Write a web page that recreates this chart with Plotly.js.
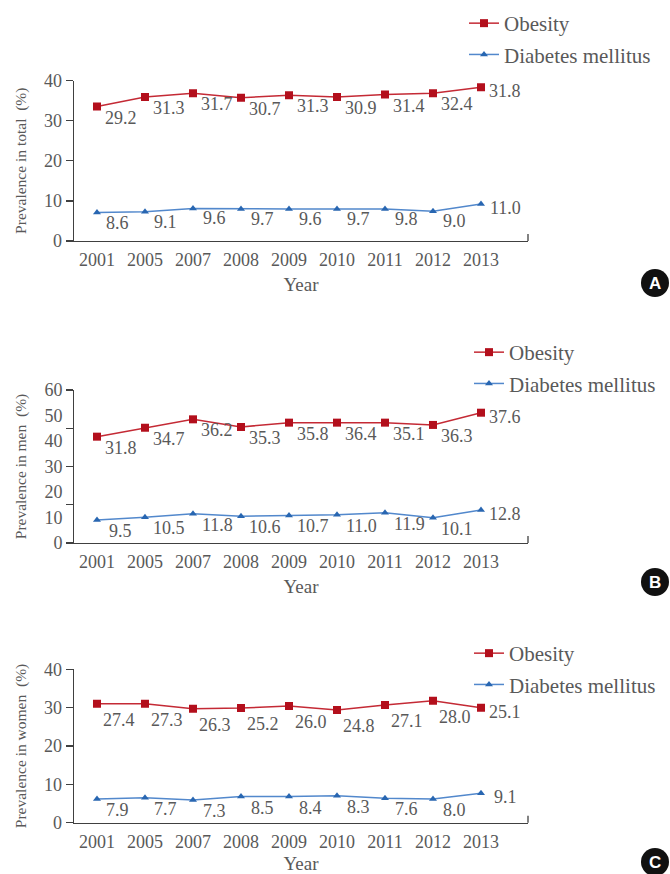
<!DOCTYPE html>
<html>
<head>
<meta charset="utf-8">
<script src="https://cdn.plot.ly/plotly-3.0.1.min.js"></script>
<style>
  html, body { margin: 0; padding: 0; background: #fff; }
  #chart { width: 670px; height: 874px; }
</style>
</head>
<body>
<div id="chart"></div>
<script>
// ---------------- data ----------------
const years = ['2001', '2005', '2007', '2008', '2009', '2010', '2011', '2012', '2013'];

// Panel A: total (plotted marker heights as drawn, and printed labels)
const totalObesity       = [33.5, 35.9, 36.8, 35.7, 36.3, 35.9, 36.5, 36.8, 38.3];
const totalObesityLabels = ['29.2', '31.3', '31.7', '30.7', '31.3', '30.9', '31.4', '32.4', '31.8'];
const totalDiabetes       = [7.1, 7.3, 8.1, 8.0, 8.0, 8.0, 8.0, 7.4, 9.2];
const totalDiabetesLabels = ['8.6', '9.1', '9.6', '9.7', '9.6', '9.7', '9.8', '9.0', '11.0'];

// Panel B: men
const menObesity       = [41.7, 45.2, 48.5, 45.5, 47.2, 47.2, 47.2, 46.3, 51.1];
const menObesityLabels = ['31.8', '34.7', '36.2', '35.3', '35.8', '36.4', '35.1', '36.3', '37.6'];
const menDiabetes       = [9.0, 10.1, 11.5, 10.5, 10.8, 11.1, 11.9, 9.9, 12.9];
const menDiabetesLabels = ['9.5', '10.5', '11.8', '10.6', '10.7', '11.0', '11.9', '10.1', '12.8'];

// Panel C: women
const womenObesity       = [31.0, 31.0, 29.7, 29.9, 30.4, 29.4, 30.7, 31.8, 30.0];
const womenObesityLabels = ['27.4', '27.3', '26.3', '25.2', '26.0', '24.8', '27.1', '28.0', '25.1'];
const womenDiabetes       = [6.2, 6.5, 5.9, 6.8, 6.8, 7.0, 6.4, 6.2, 7.7];
const womenDiabetesLabels = ['7.9', '7.7', '7.3', '8.5', '8.4', '8.3', '7.6', '8.0', '9.1'];

const seriesNames = ['Obesity', 'Diabetes mellitus'];
const yTitles = ['Prevalence in total\u00a0\u00a0(%)', 'Prevalence in men\u00a0\u00a0(%)', 'Prevalence in women\u00a0\u00a0(%)'];
const panelLetters = ['A', 'B', 'C'];

// ---------------- styling ----------------
const W = 670, H = 874;
const SERIF = 'Liberation Serif';
const GRAY = '#595959';
const AXIS = '#404040';
const RED_LINE = '#C42A35', RED_MK = '#B30F1C';
const BLUE_LINE = '#5288CC', BLUE_MK = '#2866B1';
const px = v => v / W;
const py = v => 1 - v / H;

const panels = [
  { ob: totalObesity, obL: totalObesityLabels, dm: totalDiabetes, dmL: totalDiabetesLabels,
    top: 80.5, bottom: 241, yMax: 40, tickStep: 10, labelStep: 10,
    obOff: [24, 11], dmOff: [21, 10], legTop: 3, legX: 464, badgeY: 283 },
  { ob: menObesity, obL: menObesityLabels, dm: menDiabetes, dmL: menDiabetesLabels,
    top: 390, bottom: 543, yMax: 60, tickStep: 15, labelStep: 10,
    obOff: [24, 11], dmOff: [24, 11], legTop: 332, legX: 469, badgeY: 582 },
  { ob: womenObesity, obL: womenObesityLabels, dm: womenDiabetes, dmL: womenDiabetesLabels,
    top: 669.3, bottom: 822.7, yMax: 40, tickStep: 10, labelStep: 10,
    obOff: [22, 16], dmOff: [21, 11], legTop: 633, legX: 469, badgeY: 862 }
];

const xDomain = [px(74), px(528)];
const xRange = [-0.479, 8.979];

const traces = [];
const annotations = [];
const shapes = [];
const layout = {
  width: W, height: H,
  margin: { l: 0, r: 0, t: 0, b: 0, pad: 0 },
  paper_bgcolor: '#fff', plot_bgcolor: 'rgba(0,0,0,0)',
  font: { family: SERIF, color: GRAY },
  showlegend: true,
  annotations: annotations,
  shapes: shapes
};

function range(step, max) {
  const out = [];
  for (let v = 0; v <= max + 1e-9; v += step) out.push(v);
  return out;
}

panels.forEach((p, k) => {
  const n = k + 1;
  const xa = n === 1 ? 'x' : 'x' + n;
  const ya = n === 1 ? 'y' : 'y' + n;
  const legendId = n === 1 ? 'legend' : 'legend' + n;
  const yDomain = [py(p.bottom), py(p.top)];

  traces.push({
    type: 'scatter', mode: 'lines+markers', name: seriesNames[0],
    x: years, y: p.ob, xaxis: xa, yaxis: ya,
    legend: legendId, legendgroup: 'ob' + n,
    line: { color: RED_LINE, width: 1.5 },
    marker: { symbol: 'square', size: 8, color: RED_MK },
    hoverinfo: 'skip'
  });
  traces.push({
    type: 'scatter', mode: 'lines+markers', name: seriesNames[1],
    x: years, y: p.dm, xaxis: xa, yaxis: ya,
    legend: legendId, legendgroup: 'dm' + n,
    line: { color: BLUE_LINE, width: 1.5 },
    marker: { symbol: 'triangle-up', size: 7, color: BLUE_MK },
    hoverinfo: 'skip'
  });

  // data labels
  const addLabels = (vals, labels, off) => {
    vals.forEach((v, i) => {
      const last = i === vals.length - 1;
      annotations.push({
        xref: xa, yref: ya, x: i, y: v, text: labels[i],
        showarrow: false, xanchor: 'center', yanchor: 'middle',
        xshift: last ? 24 : off[0], yshift: last ? -4 : -off[1],
        font: { family: SERIF, size: 18, color: GRAY }
      });
    });
  };
  addLabels(p.ob, p.obL, p.obOff);
  addLabels(p.dm, p.dmL, p.dmOff);

  const tickFont = { family: SERIF, size: 18, color: GRAY };

  layout['xaxis' + (n === 1 ? '' : n)] = {
    type: 'category', domain: xDomain, anchor: ya, range: xRange,
    tickmode: 'linear', tick0: 0, dtick: 1,
    showline: true, linecolor: AXIS, linewidth: 1.3,
    ticks: 'outside', ticklen: 2, tickcolor: 'rgba(0,0,0,0)',
    tickfont: tickFont, showgrid: false, zeroline: false, fixedrange: true,
    title: { text: 'Year', font: { family: SERIF, size: 19, color: GRAY }, standoff: 8 }
  };

  const sameTicks = p.tickStep === p.labelStep;
  layout['yaxis' + (n === 1 ? '' : n)] = {
    domain: yDomain, anchor: xa, range: [0, p.yMax],
    tickmode: 'array', tickvals: range(p.tickStep, p.yMax),
    showticklabels: sameTicks,
    showline: true, linecolor: AXIS, linewidth: 1.3,
    ticks: 'outside', ticklen: 7, tickcolor: AXIS, tickwidth: 1.3,
    tickfont: tickFont, showgrid: false, zeroline: false, fixedrange: true,
    title: sameTicks ? { text: yTitles[k], font: { family: SERIF, size: 15.5, color: GRAY }, standoff: 13 } : { text: '' }
  };
  if (!sameTicks) {
    // separate label axis: tick marks every tickStep, labels every labelStep
    layout['yaxis4'] = {
      overlaying: ya, anchor: xa, side: 'left', range: [0, p.yMax],
      tickmode: 'array', tickvals: range(p.labelStep, p.yMax),
      showline: false, ticks: 'outside', ticklen: 7, tickcolor: 'rgba(0,0,0,0)',
      tickfont: tickFont, showgrid: false, zeroline: false, fixedrange: true,
      title: { text: yTitles[k], font: { family: SERIF, size: 15.5, color: GRAY }, standoff: 13 }
    };
    // empty trace so that the label axis is drawn
    traces.push({
      type: 'scatter', mode: 'markers', x: [], y: [], xaxis: xa, yaxis: 'y4',
      showlegend: false, hoverinfo: 'skip'
    });
  }

  // small upward tick at right end of x axis
  shapes.push({
    type: 'line', xref: xa + ' domain', yref: ya + ' domain',
    x0: 1, x1: 1, ysizemode: 'pixel', yanchor: 0, y0: 0, y1: 7,
    line: { color: AXIS, width: 1.3 }
  });

  layout[legendId] = {
    x: px(p.legX), y: py(p.legTop), xanchor: 'left', yanchor: 'top',
    xref: 'paper', yref: 'paper',
    font: { family: SERIF, size: 21, color: GRAY },
    bgcolor: 'rgba(0,0,0,0)', borderwidth: 0,
    traceorder: 'grouped', tracegroupgap: 1,
    itemclick: false, itemdoubleclick: false
  };

  // panel badge
  shapes.push({
    type: 'circle', xref: 'paper', yref: 'paper',
    x0: px(641), x1: px(669), y0: py(p.badgeY + 14), y1: py(p.badgeY - 14),
    fillcolor: '#111111', line: { width: 0 }
  });
  annotations.push({
    xref: 'paper', yref: 'paper', x: px(655), y: py(p.badgeY + 0.5),
    text: '<b>' + panelLetters[k] + '</b>', showarrow: false,
    xanchor: 'center', yanchor: 'middle',
    font: { family: 'Liberation Sans', size: 17, color: '#ffffff' }
  });
});

Plotly.newPlot('chart', traces, layout, { staticPlot: true, displayModeBar: false });
</script>
</body>
</html>
